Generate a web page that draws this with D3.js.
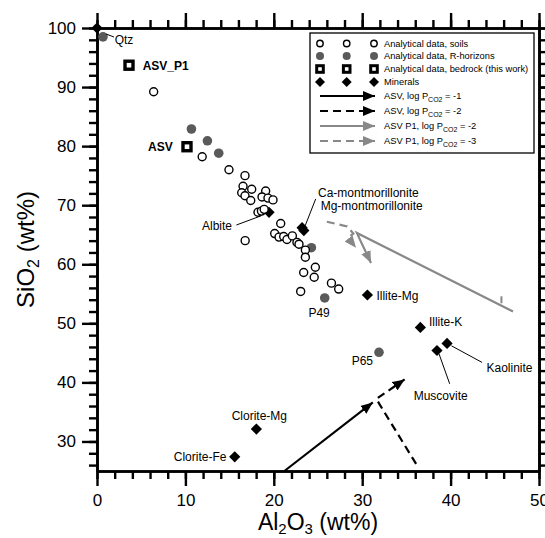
<!DOCTYPE html>
<html><head><meta charset="utf-8">
<script src="https://cdn.jsdelivr.net/npm/d3@7"></script>
<style>
body{margin:0;background:#fff}
text{font-family:Arial,"Liberation Sans",Helvetica,sans-serif}
</style>
</head><body>
<svg id="c" width="545" height="538"></svg>
<script>
// ---------------- DATA ----------------
const soils = [
  [6.41,89.2],[11.9,78.2],[14.93,76.0],[16.74,75.0],[16.52,73.2],[17.5,72.7],[16.37,72.1],
  [16.74,71.6],[17.39,70.8],[19.08,72.4],[18.67,71.4],[19.34,71.2],[19.91,70.9],[18.21,68.8],
  [18.6,69.0],[18.91,69.3],[20.78,66.9],[16.76,64.0],[20.1,65.2],[20.59,64.6],[21.12,64.7],
  [21.49,64.2],[22.1,64.8],[22.62,63.7],[22.85,63.4],[23.57,62.4],[23.57,61.2],[24.7,59.5],
  [23.38,58.6],[24.57,57.8],[23.04,55.4],[26.52,56.8],[27.34,55.8]
];
const rHorizons = [[0.68,98.5],[10.68,82.9],[12.49,80.9],[13.77,78.8],[24.25,62.8],[25.76,54.3],[31.9,45.1]];
const rHorizonNames = ["","","","","","P49","P65"];
const bedrock = [[3.62,93.7],[10.18,79.9]];
const bedrockNames = ["ASV_P1","ASV"];
const minerals = [[0,100],[19.46,68.8],[23.2,66.2],[23.4,65.7],[30.59,54.8],[36.58,49.3],[38.46,45.4],[39.6,46.6],[18.03,32.1],[15.58,27.4]];
const mineralNames = ["Qtz","Albite","Ca-montmorillonite","Mg-montmorillonite","Illite-Mg","Illite-K","Muscovite","Kaolinite","Clorite-Mg","Clorite-Fe"];

// reaction paths
const asvM1 = [[21.2,25],[31.2,36.6]];
const asvM2 = [[36.1,26.2],[32.0,36.2],[31.6,37.2],[34.8,40.5]];
const p1M2 = [[47.06,52.0],[29.4,65.3],[29.8,64.0],[31.0,60.2]];
const p1M3 = [[26.0,67.2],[28.3,66.4],[29.0,65.2],[28.4,64.5],[29.3,62.8]];

const xTicks = [0,10,20,30,40,50];
const yTicks = [30,40,50,60,70,80,90,100];

const legendItems = [
  {kind:"soil", label:"Analytical data, soils"},
  {kind:"rh", label:"Analytical data, R-horizons"},
  {kind:"bed", label:"Analytical data, bedrock (this work)"},
  {kind:"min", label:"Minerals"},
  {kind:"line", color:"#000", dash:null, pre:"ASV, log P", sub:"CO2", post:" = -1"},
  {kind:"line", color:"#000", dash:"8,5", pre:"ASV, log P", sub:"CO2", post:" = -2"},
  {kind:"line", color:"#888", dash:null, pre:"ASV P1, log P", sub:"CO2", post:" = -2"},
  {kind:"line", color:"#888", dash:"8,5", pre:"ASV P1, log P", sub:"CO2", post:" = -3"}
];

// ---------------- CHART ----------------
const svg = d3.select("#c");
const L=97, R=539, T=28, B=471;
const x = d3.scaleLinear().domain([0,50]).range([L,R]);
const y = d3.scaleLinear().domain([25,100]).range([B,T]);

const defs = svg.append("defs");
function marker(id,color){
  defs.append("marker").attr("id",id).attr("markerUnits","userSpaceOnUse")
    .attr("markerWidth",13).attr("markerHeight",11).attr("refX",12).attr("refY",5)
    .attr("orient","auto").attr("viewBox","0 0 13 10")
    .append("path").attr("d","M0,0 L12,5 L0,10 Z").attr("fill",color);
}
marker("aB","#000"); marker("aG","#888");

function styleAxis(g){
  g.selectAll("path.domain").attr("stroke","#000").attr("stroke-width",2.6);
  g.selectAll(".tick line").attr("stroke","#000").attr("stroke-width",2.4);
  g.selectAll(".tick text").attr("fill","#000").style("font-size","17px")
    .style("font-family","Arial, 'Liberation Sans', sans-serif");
}
const minorX = d3.range(0,51,2), minorY = d3.range(26,101,2);
// bottom
svg.append("g").attr("transform",`translate(0,${B})`)
  .call(d3.axisBottom(x).tickValues(minorX).tickSize(8).tickSizeOuter(0).tickFormat("")).call(styleAxis);
svg.append("g").attr("transform",`translate(0,${B})`)
  .call(d3.axisBottom(x).tickValues(xTicks).tickSize(15).tickSizeOuter(0).tickPadding(8).tickFormat(d3.format("d"))).call(styleAxis);
// top
svg.append("g").attr("transform",`translate(0,${T})`)
  .call(d3.axisTop(x).tickValues(minorX).tickSize(8).tickSizeOuter(0).tickFormat("")).call(styleAxis);
svg.append("g").attr("transform",`translate(0,${T})`)
  .call(d3.axisTop(x).tickValues(xTicks).tickSize(15).tickSizeOuter(0).tickFormat("")).call(styleAxis);
// left
svg.append("g").attr("transform",`translate(${L},0)`)
  .call(d3.axisLeft(y).tickValues(minorY).tickSize(8).tickSizeOuter(0).tickFormat("")).call(styleAxis);
svg.append("g").attr("transform",`translate(${L},0)`)
  .call(d3.axisLeft(y).tickValues(yTicks).tickSize(15).tickSizeOuter(0).tickPadding(6).tickFormat(d3.format("d"))).call(styleAxis);
// right
svg.append("g").attr("transform",`translate(${R},0)`)
  .call(d3.axisRight(y).tickValues(minorY).tickSize(8).tickSizeOuter(0).tickFormat("")).call(styleAxis);
svg.append("g").attr("transform",`translate(${R},0)`)
  .call(d3.axisRight(y).tickValues(yTicks).tickSize(15).tickSizeOuter(0).tickFormat("")).call(styleAxis);

// axis titles
const xt = svg.append("text").attr("x",(L+R)/2).attr("y",530).attr("text-anchor","middle").style("font-size","23px");
xt.append("tspan").text("Al");
xt.append("tspan").text("2").style("font-size","15px").attr("dy",4);
xt.append("tspan").text("O").attr("dy",-4);
xt.append("tspan").text("3").style("font-size","15px").attr("dy",4);
xt.append("tspan").text(" (wt%)").attr("dy",-4);
const yt = svg.append("text").attr("transform",`translate(34,${(T+B)/2}) rotate(-90)`).attr("text-anchor","middle").style("font-size","24px");
yt.append("tspan").text("SiO");
yt.append("tspan").text("2").style("font-size","16px").attr("dy",5);
yt.append("tspan").text(" (wt%)").attr("dy",-5);

// paths
const line = d3.line().x(d=>x(d[0])).y(d=>y(d[1]));
const plot = svg.append("g");
function drawPath(data,color,dash,mk){
  plot.append("path").attr("d",line(data)).attr("fill","none").attr("stroke",color)
    .attr("stroke-width",2.2).attr("stroke-dasharray",dash).attr("marker-end",`url(#${mk})`);
}
drawPath(asvM1,"#000",null,"aB");
drawPath(asvM2,"#000","8,5","aB");
drawPath(p1M2,"#888",null,"aG");
drawPath(p1M3,"#888","8,5","aG");
// small tick on P1 path
{
  const p = [x(45.75), y(53.9)];
  plot.append("line").attr("x1",p[0]).attr("y1",p[1]-4).attr("x2",p[0]).attr("y2",p[1]+3).attr("stroke","#888").attr("stroke-width",2);
}

// symbols
const diamond = "M0,-5.6 L5.6,0 L0,5.6 L-5.6,0 Z";
const pts = svg.append("g");
pts.selectAll("path.min").data(minerals).join("path").attr("class","min")
  .attr("d",diamond).attr("transform",d=>`translate(${x(d[0])},${y(d[1])})`).attr("fill","#000");
pts.selectAll("circle.rh").data(rHorizons).join("circle").attr("class","rh")
  .attr("cx",d=>x(d[0])).attr("cy",d=>y(d[1])).attr("r",4.8).attr("fill","#5a5a5a");
pts.selectAll("circle.soil").data(soils).join("circle").attr("class","soil")
  .attr("cx",d=>x(d[0])).attr("cy",d=>y(d[1])).attr("r",4).attr("fill","#fff").attr("stroke","#000").attr("stroke-width",1.4);
pts.selectAll("rect.bed").data(bedrock).join("rect").attr("class","bed")
  .attr("x",d=>x(d[0])-4).attr("y",d=>y(d[1])-4).attr("width",8).attr("height",8)
  .attr("fill","#fff").attr("stroke","#000").attr("stroke-width",3.4);

// labels (offsets from point in px)
const lab = svg.append("g").style("font-size","12px");
function label(pt,name,dx,dy,anchor,bold,lead){
  const px=x(pt[0]), py=y(pt[1]);
  lab.append("text").attr("x",px+dx).attr("y",py+dy).attr("text-anchor",anchor||"start")
    .style("font-weight",bold?"bold":"normal").text(name);
  if(lead) lab.append("line").attr("x1",px+lead[0]).attr("y1",py+lead[1]).attr("x2",px+lead[2]).attr("y2",py+lead[3])
    .attr("stroke","#000").attr("stroke-width",1);
}
const mOff = {
  "Qtz":[17.7,16,"start",[9,6,17,9]],
  "Albite":[-37,17.7,"end",[-7.6,3.4,-32.6,12.7]],
  "Ca-montmorillonite":[15.9,-30.2,"start",[13.6,-28.7,2.6,-0.7]],
  "Mg-montmorillonite":[16.8,-20.6,"start",null],
  "Illite-Mg":[9,5,"start",null],
  "Illite-K":[8.6,-1.7,"start",null],
  "Muscovite":[-23.3,49.3,"start",[2,3.3,12.7,33.3]],
  "Kaolinite":[39.4,28.7,"start",[4.4,2.4,35,19]],
  "Clorite-Mg":[-24.7,-9.3,"start",null],
  "Clorite-Fe":[-8.3,4.3,"end",null]
};
minerals.forEach((d,i)=>{const o=mOff[mineralNames[i]]; label(d,mineralNames[i],o[0],o[1],o[2],false,o[3]);});
const rOff = {"P49":[-16.3,19,"start"],"P65":[-6,13,"end"]};
rHorizons.forEach((d,i)=>{const n=rHorizonNames[i]; if(n){const o=rOff[n]; label(d,n,o[0],o[1],o[2],false,null);}});
const bOff = {"ASV_P1":[13.7,5,"start"],"ASV":[-14.3,4.5,"end"]};
bedrock.forEach((d,i)=>{const o=bOff[bedrockNames[i]]; label(d,bedrockNames[i],o[0],o[1],o[2],true,null);});

// legend
const lg = svg.append("g");
lg.append("rect").attr("x",310).attr("y",33).attr("width",224).attr("height",120)
  .attr("fill","#fff").attr("stroke","#000").attr("stroke-width",1.3);
const rowY = [43.5,56,69,82,96,111,126,141];
const symX = [320,346.7,374];
legendItems.forEach((it,i)=>{
  const yy = rowY[i];
  if(it.kind==="line"){
    lg.append("line").attr("x1",320).attr("y1",yy).attr("x2",375).attr("y2",yy)
      .attr("stroke",it.color).attr("stroke-width",2.2).attr("stroke-dasharray",it.dash)
      .attr("marker-end",`url(#${it.color==="#000"?"aB":"aG"})`);
    const t = lg.append("text").attr("x",384).attr("y",yy+3.3).style("font-size","9.3px");
    t.append("tspan").text(it.pre);
    t.append("tspan").text(it.sub).style("font-size","7px").attr("dy",3);
    t.append("tspan").text(it.post).attr("dy",-3);
  } else {
    symX.forEach(sx=>{
      if(it.kind==="soil") lg.append("circle").attr("cx",sx).attr("cy",yy).attr("r",3.2).attr("fill","#fff").attr("stroke","#000").attr("stroke-width",1.4);
      if(it.kind==="rh") lg.append("circle").attr("cx",sx).attr("cy",yy).attr("r",4).attr("fill","#5a5a5a");
      if(it.kind==="bed") lg.append("rect").attr("x",sx-3.3).attr("y",yy-3.3).attr("width",6.6).attr("height",6.6).attr("fill","#fff").attr("stroke","#000").attr("stroke-width",3);
      if(it.kind==="min") lg.append("path").attr("d","M0,-5 L5,0 L0,5 L-5,0 Z").attr("transform",`translate(${sx},${yy})`).attr("fill","#000");
    });
    lg.append("text").attr("x",384).attr("y",yy+3.3).style("font-size","9.3px").text(it.label);
  }
});
</script>
</body></html>
